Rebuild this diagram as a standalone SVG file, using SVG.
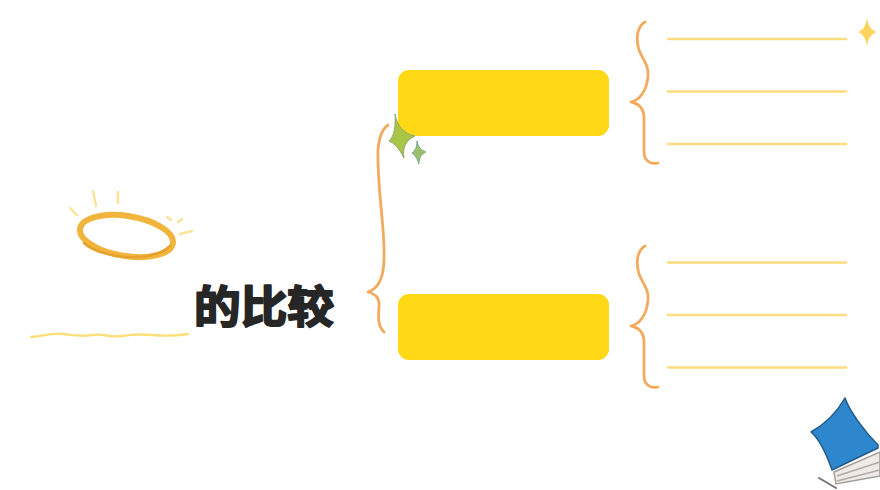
<svg xmlns="http://www.w3.org/2000/svg" width="880" height="490" viewBox="0 0 880 490">
<defs>
<style>
.box{fill:#ffd916}
.brace{fill:none;stroke:#f2ab5e;stroke-width:2.800;stroke-linecap:round;stroke-linejoin:round}
.line{fill:none;stroke:#fbdc7e;stroke-width:2.600;stroke-linecap:round}
.ray{fill:none;stroke:#fbe398;stroke-width:2.400;stroke-linecap:round}
.title{font-family:"Noto Sans CJK SC","Noto Sans",sans-serif;font-weight:700;font-size:44px;fill:#262626;stroke:#262626;stroke-width:2;stroke-linejoin:round}
</style>
<path id="brace" d="M645 22C638 26 636 36 638 46C640 58 649 62 648 76C647 90 640 100 631 102C637 103 644 107 644 118L644 152C644 160 650 165 658 163"/>
<g id="rows"><path class="line" d="M668 39H846"/><path class="line" d="M668 91.500H846"/><path class="line" d="M668 144H846"/></g>
</defs>
<rect width="880" height="490" fill="#fff"/>
<g id="connectors">
<path class="brace" d="M388 125C382 129 379 138 378 150C377 190 385 225 384 258C384 274 380 288 368 292C376 294 380 298 379 306C378 318 378 326 384 332"/>
<use href="#brace" class="brace"/>
<use href="#brace" class="brace" y="224"/>
<use href="#rows"/>
<use href="#rows" y="223.500"/>
</g>
<g id="node-top"><rect class="box" x="398" y="70" width="211" height="66" rx="11"/></g>
<g id="node-bottom"><rect class="box" x="398" y="294" width="211" height="66" rx="11"/></g>
<g id="title"><text class="title" x="194" y="323" textLength="140" lengthAdjust="spacingAndGlyphs">的比较</text></g>
<g id="halo">
<path class="ray" d="M93 191L96 206M118 192V203M70 208L77 215M167 217L171 220M178 222L182 219M180 234L192 231"/>
<ellipse cx="126.500" cy="236" rx="47" ry="20" transform="rotate(9 126.500 236)" fill="none" stroke="#f1b43c" stroke-width="6"/>
<path d="M84 243C100 258 150 264 170 246" fill="none" stroke="#e5a12e" stroke-width="2.500" stroke-linecap="round"/>
</g>
<g id="squiggle"><path d="M31 337C45 336 50 333 62 334S80 337 92 335S110 338 122 336S140 334 152 335S175 336 188 334" fill="none" stroke="#fbe078" stroke-width="2.400" stroke-linecap="round"/></g>
<g id="sparkle-green">
<path d="M395 114C397 126 404 134 415 136C406 140 402 148 404 158C399 148 394 143 389 141C394 137 396 126 395 114Z" fill="#a8c545" stroke="#8ea86a" stroke-width="1"/>
<path d="M417 141C418 147 421 150 426 152C421 154 419 158 419 164C417 158 415 155 412 153C415 151 417 147 417 141Z" fill="#9cc06a" stroke="#7fa88a" stroke-width="1"/>
</g>
<g id="sparkle-yellow"><path d="M867 17C868 26 871 30 877 32C871 34 868 38 867 47C866 38 863 34 858 32C863 30 866 26 867 17Z" fill="#fbd45c"/></g>
<g id="book">
<path d="M834 472L880 452V476L836 484Z" fill="#efeae6" stroke="#a09c98" stroke-width="1.500"/>
<path d="M837 476L880 462M837 481L880 470" stroke="#aeaaa6" stroke-width="1.500" fill="none"/>
<path d="M819 478L836 488" stroke="#76736f" stroke-width="2" fill="none" stroke-linecap="round"/>
<path d="M845 398C850 412 865 432 878 445L878 448L832 470C825 450 818 438 811 432C825 424 837 412 845 398Z" fill="#2e86cc" stroke="#235a88" stroke-width="1.500" stroke-linejoin="round"/>
</g>
</svg>
